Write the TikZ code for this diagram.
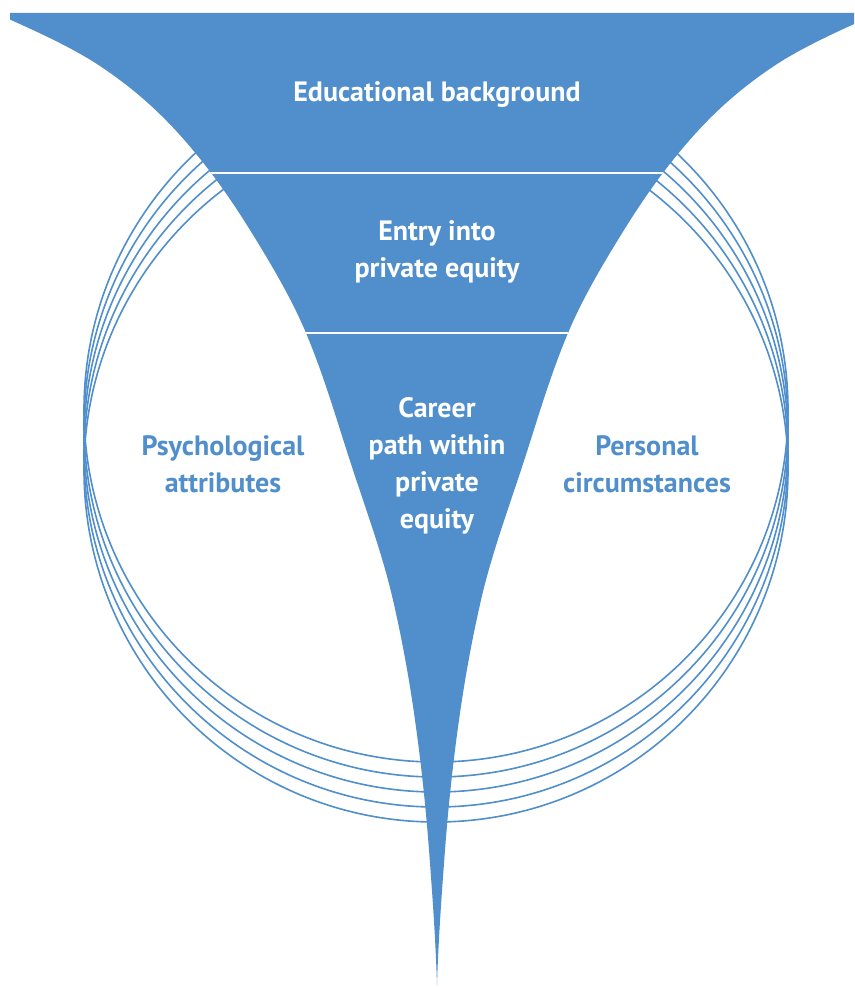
\documentclass[tikz,border=0pt]{standalone}
\usepackage{fontspec}
\setmainfont{PT Sans}
\definecolor{fblue}{RGB}{80,143,203}
\begin{document}
\begin{tikzpicture}[x=1pt,y=-1pt,
  ring/.style={draw=fblue,line width=1.6pt},
  sep/.style={draw=white,line width=1.3pt},
  intext/.style={text=white,font=\bfseries\fontsize{28}{37}\selectfont,align=center,anchor=base,inner sep=0pt},
  outtext/.style={text=fblue,font=\bfseries\fontsize{28}{37}\selectfont,align=center,anchor=base,inner sep=0pt}]
\useasboundingbox (0,0) rectangle (854,987);
\fill[white] (0,0) rectangle (854,987);
% rings
\foreach \k in {0,...,4}{
  \draw[ring] (436,410+15*\k) circle[radius=352pt];
}
\def\myfunnel{(-5,13)
  .. controls (35.6,30.7) and (73.5,48.3) .. (100,66)
  .. controls (144.5,95.7) and (172.7,125.3) .. (197,155)
  .. controls (217.5,180) and (234.5,205) .. (250,230)
  .. controls (271.3,264.3) and (291.6,298.7) .. (306,333)
  .. controls (324.8,377.7) and (337.3,422.3) .. (352,467)
  .. controls (366.6,511.3) and (382.8,555.7) .. (393,600)
  .. controls (402.2,640) and (409.4,680) .. (415,720)
  .. controls (421.1,763.3) and (425.75,806.7) .. (429,850)
  .. controls (432.4,895) and (435.65,940) .. (437,985)
  .. controls (438.35,940) and (441.6,895) .. (445,850)
  .. controls (448.25,806.7) and (452.9,763.3) .. (459,720)
  .. controls (464.6,680) and (471.8,640) .. (481,600)
  .. controls (491.2,555.7) and (507.4,511.3) .. (522,467)
  .. controls (536.7,422.3) and (549.2,377.7) .. (568,333)
  .. controls (582.4,298.7) and (602.7,264.3) .. (624,230)
  .. controls (639.5,205) and (656.5,180) .. (677,155)
  .. controls (701.3,125.3) and (729.5,95.7) .. (774,66)
  .. controls (800.5,48.3) and (838.4,30.7) .. (879,13)
  -- cycle}
\begin{scope}
  \clip (10,0) rectangle (854,987);
  \fill[fblue] \myfunnel;
  \clip \myfunnel;
  \draw[sep] (0,173) -- (854,173);
  \draw[sep] (0,333) -- (854,333);
\end{scope}
\node[intext] (edu) at (437,102) {Educational background};
\node[intext] (entry) at (437,277) {Entry into\\private equity};
\node[intext] (career) at (437,528) {Career\\path within\\private\\equity};
\node[outtext] (psy) at (223,492) {Psychological\\attributes};
\node[outtext] (pers) at (647,492) {Personal\\circumstances};
\end{tikzpicture}
\end{document}
